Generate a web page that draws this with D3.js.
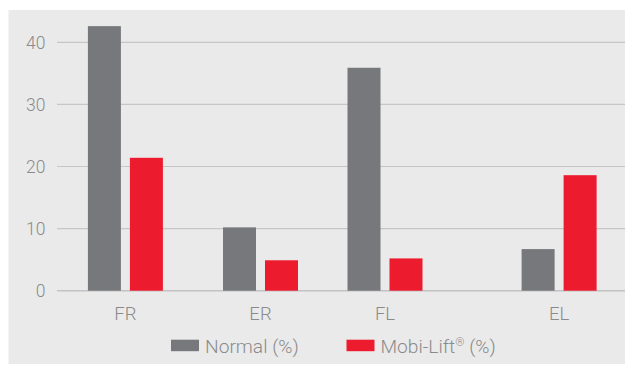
<!DOCTYPE html>
<html>
<head>
<meta charset="utf-8">
<script src="https://cdn.jsdelivr.net/npm/d3@7"></script>
<style>
  html, body { margin: 0; padding: 0; background: #ffffff; }
  svg { display: block; }
  text { font-family: Roboto, "Liberation Sans", Arial, sans-serif; font-weight: 300; fill: #8a8a8c; }
</style>
</head>
<body>
<svg id="chart" width="626" height="365"></svg>
<script>
// Range of motion categories
const categories = ["FR", "ER", "FL", "EL"];
// Series values (%)
const normalValues = [42.6, 10.2, 35.9, 6.7];
const mobiLiftValues = [21.4, 4.9, 5.2, 18.6];
// Series names shown in the legend (base text, superscript mark, suffix)
const seriesNames = [["Normal", "", " (%)"], ["Mobi-Lift", "®", " (%)"]];
// Y axis ticks
const yTicks = [0, 10, 20, 30, 40];

const seriesColors = ["#77787b", "#ed1b2e"];

const svg = d3.select("#chart");
const W = 626, H = 365;

// Panel background
svg.append("rect")
  .attr("x", 8.5).attr("y", 10)
  .attr("width", W - 9.5).attr("height", H - 11)
  .attr("fill", "#eaeaea");

const plotLeft = 57, plotRight = 625;

const y = d3.scaleLinear().domain([0, 40]).range([290.7, 42.3]);

// Group centres along the x axis
const x = d3.scaleOrdinal()
  .domain(categories)
  .range([125.4, 260.5, 385, 559.1]);

// Position of each series inside a group
const sub = d3.scaleBand()
  .domain([0, 1])
  .range([-37.5, 37.5])
  .paddingInner(0.214)
  .paddingOuter(0);

// Gridlines
svg.append("g")
  .selectAll("line")
  .data(yTicks)
  .join("line")
  .attr("x1", plotLeft).attr("x2", plotRight)
  .attr("y1", d => y(d)).attr("y2", d => y(d))
  .attr("stroke", d => d === 0 ? "#c2c2c2" : "#c6c6c6")
  .attr("stroke-width", d => d === 0 ? 1.6 : 1.2);

// Y tick labels
svg.append("g")
  .selectAll("text")
  .data(yTicks)
  .join("text")
  .attr("x", 45.5)
  .attr("y", d => y(d))
  .attr("dy", "0.36em")
  .attr("text-anchor", "end")
  .attr("font-size", 17.5)
  .text(d => d);

// Bars
const series = [normalValues, mobiLiftValues];
series.forEach((vals, si) => {
  svg.append("g")
    .selectAll("rect")
    .data(categories.map((c, i) => ({ c, v: vals[i] })))
    .join("rect")
    .attr("x", d => x(d.c) + sub(si))
    .attr("width", sub.bandwidth())
    .attr("y", d => y(d.v))
    .attr("height", d => y(0) - y(d.v))
    .attr("fill", seriesColors[si]);
});

// X category labels
svg.append("g")
  .selectAll("text")
  .data(categories)
  .join("text")
  .attr("x", d => x(d))
  .attr("y", 319.5)
  .attr("text-anchor", "middle")
  .attr("font-size", 18.5)
  .text(d => d);

// Legend
const legend = svg.append("g");
const legendX = [171, 346.5];
seriesNames.forEach((parts, i) => {
  legend.append("rect")
    .attr("x", legendX[i]).attr("y", 339.7)
    .attr("width", 28).attr("height", 11.5)
    .attr("fill", seriesColors[i]);
  const t = legend.append("text")
    .attr("x", legendX[i] + 34)
    .attr("y", 352.5)
    .attr("font-size", 19.2);
  t.append("tspan").text(parts[0]);
  if (parts[1]) {
    t.append("tspan").attr("font-size", 11.5).attr("dy", -6.5).text(parts[1]);
    t.append("tspan").attr("dy", 6.5).text(parts[2]);
  } else {
    t.append("tspan").text(parts[2]);
  }
});
</script>
</body>
</html>
